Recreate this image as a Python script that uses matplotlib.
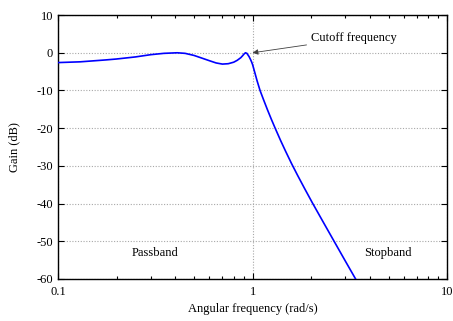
import matplotlib
matplotlib.use("Agg")
import matplotlib.pyplot as plt
from matplotlib.ticker import FixedLocator, LogLocator, NullFormatter

plt.rcParams['font.family'] = ['Liberation Serif', 'DejaVu Serif']
plt.rcParams['axes.unicode_minus'] = False

# values
freq = [0.1, 0.13, 0.1755, 0.2, 0.25, 0.3, 0.35, 0.41, 0.45, 0.5, 0.541,
        0.6, 0.65, 0.7, 0.75, 0.8, 0.834, 0.87, 0.89, 0.905, 0.92, 0.935,
        0.9594, 0.9766, 0.9882, 1.0, 1.024, 1.0547, 1.0928, 1.139, 1.1941,
        1.2522, 1.3131, 1.3931, 1.4779, 1.5868, 1.7036, 1.851, 2.0272,
        2.2899, 2.6182, 2.9717, 3.385]
gain = [-2.6, -2.4, -1.9, -1.65, -1.1, -0.5, -0.15, 0.0, -0.15, -0.7, -1.3,
        -2.1, -2.7, -3.0, -2.9, -2.5, -2.0, -1.3, -0.75, -0.3, 0.0, -0.15,
        -1.0, -1.8, -2.4, -3.1, -5.0, -7.4, -10.0, -12.45, -15.17,
        -17.77, -20.25, -23.25, -26.1, -29.4, -32.5, -36.0, -39.75,
        -44.6, -49.9, -54.9, -60.0]

x_ticks = [0.1, 1, 10]
x_ticklabels = ["0.1", "1", "10"]
y_ticks = [10, 0, -10, -20, -30, -40, -50, -60]
y_ticklabels = ["10", "0", "-10", "-20", "-30", "-40", "-50", "-60"]

cutoff_freq = 1.0
cutoff_gain = 0.0

fig = plt.figure(figsize=(4.53, 3.21), dpi=100)
ax = fig.add_axes([0.128, 0.131, 0.859, 0.822])

ax.set_xscale('log')
ax.set_xlim(0.1, 10)
ax.set_ylim(-60, 10)

ax.plot(freq, gain, color='#0000ff', lw=1.2, zorder=3)

ax.xaxis.set_major_locator(FixedLocator(x_ticks))
ax.set_xticklabels(x_ticklabels)
ax.xaxis.set_minor_locator(LogLocator(base=10, subs=range(2, 10)))
ax.xaxis.set_minor_formatter(NullFormatter())
ax.set_yticks(y_ticks)
ax.set_yticklabels(y_ticklabels)

ax.tick_params(which='both', direction='in', top=True, right=True,
               labelsize=9, colors='black')
ax.tick_params(which='major', length=4, width=0.8)
ax.tick_params(which='minor', length=2, width=0.8)
ax.tick_params(axis='x', pad=5)

ax.grid(True, which='major', color='#a8a8a8', linestyle=(0, (1, 1.5)), lw=0.8)
for sp in ax.spines.values():
    sp.set_linewidth(1.0)

ax.set_xlabel("Angular frequency (rad/s)", fontsize=9, labelpad=4)
ax.set_ylabel("Gain (dB)", fontsize=9, labelpad=12)

ax.annotate("Cutoff frequency", xy=(cutoff_freq, cutoff_gain),
            xytext=(1.99, 3.9), fontsize=9, ha='left', va='center',
            arrowprops=dict(arrowstyle='-|>', color='#404040', lw=0.6,
                            mutation_scale=8, shrinkA=1, shrinkB=0))
ax.text(0.315, -53.2, "Passband", fontsize=9, ha='center', va='center')
ax.text(4.97, -53.2, "Stopband", fontsize=9, ha='center', va='center')

fig.savefig('out.png', dpi=100)
